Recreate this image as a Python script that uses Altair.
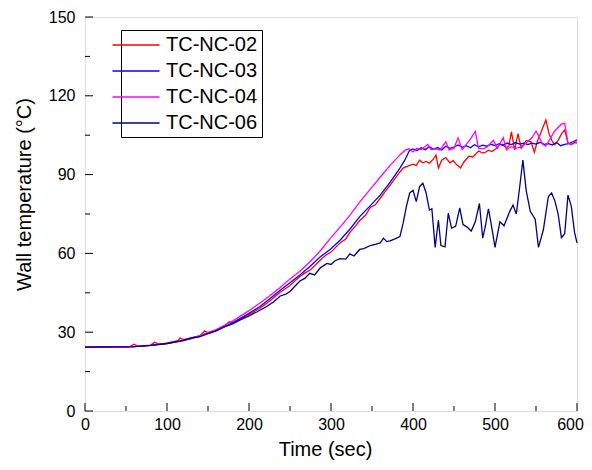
import altair as alt
import pandas as pd

series_names = ["TC-NC-02", "TC-NC-03", "TC-NC-04", "TC-NC-06"]
series_colors = ["#ff0000", "#0000ff", "#ff00ff", "#000080"]

# TC-NC-02 (red)
t_02 = [0, 40, 55, 60, 64, 80, 85, 90, 100, 113, 116, 120, 140, 146, 150, 160, 170, 176, 180, 190,
        200, 213, 225, 238, 250, 262, 268, 275, 287, 293, 300, 311, 318, 323, 330, 335, 342, 348, 354, 360,
        366, 372, 378, 384, 388, 392, 396, 400, 404, 408, 412, 416, 420, 425, 428, 431, 435, 440, 445, 449,
        453, 458, 462, 468, 473, 480, 485, 489, 492, 496, 502, 506, 510, 514, 517, 520, 524, 528, 532, 535,
        538, 544, 548, 552, 556, 562, 566, 570, 573, 577, 581, 585, 589, 593, 597, 600]
v_02 = [24.3, 24.4, 24.5, 25.4, 24.6, 25.1, 26.2, 25.4, 25.8, 26.8, 27.8, 27.2, 28.6, 30.5, 29.8, 30.8, 32.4, 34.0, 33.5, 35.2,
        36.8, 39.0, 41.8, 45.2, 47.8, 51.2, 52.5, 53.8, 57.5, 59.2, 60.5, 64.0, 65.5, 68.0, 70.5, 72.5, 74.5, 77.5, 78.5, 81.0,
        83.5, 86.0, 88.5, 91.0, 92.5, 93.0, 93.5, 94.0, 93.5, 95.5, 94.5, 95.0, 94.3, 96.0, 97.5, 92.5, 95.5, 96.5, 94.5, 95.3,
        93.8, 92.5, 94.8, 97.0, 96.7, 99.0, 98.2, 98.6, 99.3, 98.8, 100.0, 101.5, 101.2, 100.2, 101.0, 106.3, 99.4, 105.6, 100.0, 101.5,
        103.0, 102.5, 98.5, 103.0, 106.0, 110.8, 105.5, 102.5, 101.4, 103.0, 105.5, 107.0, 102.0, 101.4, 102.2, 102.0]

# TC-NC-03 (blue)
t_03 = [0, 50, 60, 80, 100, 120, 140, 160, 180, 190, 200, 213, 225, 238, 250, 262, 275, 287, 300, 311,
        323, 335, 348, 360, 372, 384, 390, 396, 400, 405, 410, 415, 420, 425, 430, 435, 440, 445, 450, 455,
        460, 465, 470, 475, 480, 485, 490, 495, 500, 505, 510, 515, 520, 525, 530, 535, 540, 545, 550, 555,
        560, 565, 570, 575, 580, 585, 590, 595, 600]
v_03 = [24.3, 24.4, 24.5, 25.0, 25.7, 26.8, 28.4, 30.6, 33.6, 35.4, 37.2, 39.7, 42.6, 46.0, 48.8, 51.8, 55.2, 58.7, 61.8, 65.0,
        69.2, 74.0, 78.2, 82.2, 87.0, 92.5, 95.5, 99.4, 99.8, 99.2, 100.2, 99.5, 100.6, 99.6, 100.3, 99.4, 100.8, 100.0, 100.5, 101.3,
        100.4, 101.0, 100.2, 101.4, 100.6, 101.2, 100.8, 101.6, 101.0, 101.8, 101.2, 102.0, 101.4, 102.2, 101.6, 102.0, 101.4, 102.0, 101.6, 102.3,
        101.5, 101.8, 101.3, 102.2, 101.0, 101.5, 101.8, 102.5, 103.2]

# TC-NC-04 (magenta)
t_04 = [0, 50, 60, 80, 100, 120, 140, 160, 180, 190, 200, 213, 225, 238, 250, 262, 275, 287, 300, 311,
        323, 335, 348, 360, 372, 384, 390, 395, 400, 405, 410, 418, 422, 428, 433, 440, 444, 450, 455, 460,
        465, 470, 476, 480, 485, 490, 498, 503, 510, 514, 520, 525, 530, 538, 545, 550, 554, 558, 562, 567,
        573, 581, 585, 589, 593, 597, 600]
v_04 = [24.3, 24.4, 24.5, 25.0, 25.8, 27.0, 28.7, 31.0, 34.2, 36.2, 38.2, 41.0, 43.8, 47.0, 50.3, 53.2, 57.0, 61.0, 66.0, 70.0,
        74.5, 79.5, 84.5, 89.0, 93.5, 97.5, 99.2, 99.8, 98.6, 100.0, 99.5, 101.5, 99.5, 99.8, 99.4, 102.5, 99.4, 100.0, 104.0, 99.5,
        101.5, 103.5, 106.5, 100.0, 99.8, 100.4, 103.0, 100.0, 104.0, 99.5, 100.6, 100.0, 100.4, 102.0, 104.0, 106.6, 104.3, 101.5, 100.8, 103.5,
        106.7, 109.2, 109.5, 102.0, 101.5, 102.6, 102.3]

# TC-NC-06 (navy)
t_06 = [0, 60, 80, 100, 120, 130, 140, 150, 160, 170, 180, 190, 200, 210, 220, 230, 238, 245, 250, 256,
        262, 268, 274, 280, 287, 295, 300, 305, 311, 318, 323, 328, 335, 340, 348, 355, 360, 364, 368, 372,
        378, 384, 388, 392, 396, 400, 404, 408, 412, 416, 420, 423, 427, 431, 434, 439, 443, 447, 452, 457,
        461, 466, 471, 476, 481, 485, 488, 492, 496, 500, 506, 511, 518, 522, 526, 530, 534, 538, 543, 549,
        553, 559, 565, 569, 573, 577, 581, 585, 589, 593, 597, 600]
v_06 = [24.3, 24.5, 25.0, 25.7, 26.9, 27.8, 28.3, 29.5, 30.5, 32.0, 33.2, 34.8, 36.2, 37.8, 39.5, 41.5, 43.8, 44.5, 45.5, 47.5,
        49.5, 50.5, 52.4, 51.8, 54.5, 56.2, 55.8, 57.2, 58.0, 57.8, 59.8, 59.0, 61.5, 61.8, 63.0, 63.5, 64.0, 65.8, 64.5, 64.8,
        65.5, 66.4, 71.5, 78.0, 83.0, 84.0, 79.7, 85.4, 86.7, 83.0, 76.5, 77.0, 62.3, 72.7, 63.0, 62.5, 75.3, 69.6, 70.3, 77.3,
        71.0, 70.0, 68.5, 72.0, 79.0, 65.8, 70.0, 77.0, 70.0, 62.3, 72.0, 70.5, 76.0, 78.4, 75.0, 85.0, 95.5, 84.0, 76.0, 73.0,
        62.3, 69.0, 81.6, 83.0, 80.0, 75.0, 66.0, 67.5, 82.2, 78.0, 68.0, 64.0]

x_major = [0, 100, 200, 300, 400, 500, 600]
x_minor = [50, 150, 250, 350, 450, 550]
y_major = [0, 30, 60, 90, 120, 150]
y_minor = [15, 45, 75, 105, 135]

rows = []
for name, ts, vs in [(series_names[0], t_02, v_02), (series_names[1], t_03, v_03),
                     (series_names[2], t_04, v_04), (series_names[3], t_06, v_06)]:
    for i, (t, v) in enumerate(zip(ts, vs)):
        rows.append({"series": name, "time": t, "temp": v, "idx": i})
df = pd.DataFrame(rows)

FONT = "Liberation Sans"
W, H = 492, 394

xscale = alt.Scale(domain=[0, 600], nice=False)
yscale = alt.Scale(domain=[0, 150], nice=False)

lines = alt.Chart(df).mark_line(strokeWidth=1.3).encode(
    x=alt.X("time:Q", scale=xscale,
            axis=alt.Axis(title="Time (sec)", values=x_major, format="d", grid=False, domain=False,
                          ticks=False, labelPadding=5, labelFontSize=16, labelFont=FONT,
                          labelFlush=False, labelOverlap=False,
                          labelOffset=alt.ExprRef(expr="datum.value == 600 ? -7 : 0"),
                          labelColor="black", titleFontSize=20, titleFont=FONT,
                          titleFontWeight="normal", titleColor="black", titleX=240, titleY=44,
                          titleBaseline="alphabetic")),
    y=alt.Y("temp:Q", scale=yscale,
            axis=alt.Axis(title="Wall temperature (°C)", values=y_major, format="d", grid=False,
                          domain=False, ticks=False, labelPadding=10, labelFontSize=16,
                          labelFlush=False, labelOverlap=False,
                          labelFont=FONT, labelColor="black", titleFontSize=20, titleFont=FONT,
                          titleFontWeight="normal", titleColor="black", titleX=-55, titleY=177,
                          titleBaseline="alphabetic")),
    color=alt.Color("series:N",
                    scale=alt.Scale(domain=series_names, range=series_colors),
                    legend=alt.Legend(title=None, orient="none", legendX=36, legendY=13,
                                      symbolType="M-2.35,0H2.35", symbolSize=400,
                                      symbolStrokeWidth=1.3, labelFontSize=20, labelFont=FONT,
                                      labelColor="black", labelOffset=19, rowPadding=5,
                                      padding=4, strokeColor="black", fillColor="white")),
    order="idx:Q",
)

def tick_layer(vals, channel, length):
    d = pd.DataFrame({"v": vals})
    if channel == "x":
        return alt.Chart(d).mark_rule(color="black", strokeWidth=1).encode(
            x=alt.X("v:Q", scale=xscale), y=alt.value(H), y2=alt.value(H - length))
    return alt.Chart(d).mark_rule(color="black", strokeWidth=1).encode(
        y=alt.Y("v:Q", scale=yscale), x=alt.value(0), x2=alt.value(length))

chart = alt.layer(
    tick_layer(x_major, "x", 8), tick_layer(x_minor, "x", 5),
    tick_layer(y_major, "y", 8), tick_layer(y_minor, "y", 5),
    lines,
).properties(
    width=W, height=H,
    autosize=alt.AutoSizeParams(type="none"),
    padding={"left": 77, "top": 9, "right": 7, "bottom": 51},
).configure_view(stroke="black", strokeWidth=1.5).configure(background="white")

chart.save("out.html", embed_options={"renderer": "svg", "actions": False})
